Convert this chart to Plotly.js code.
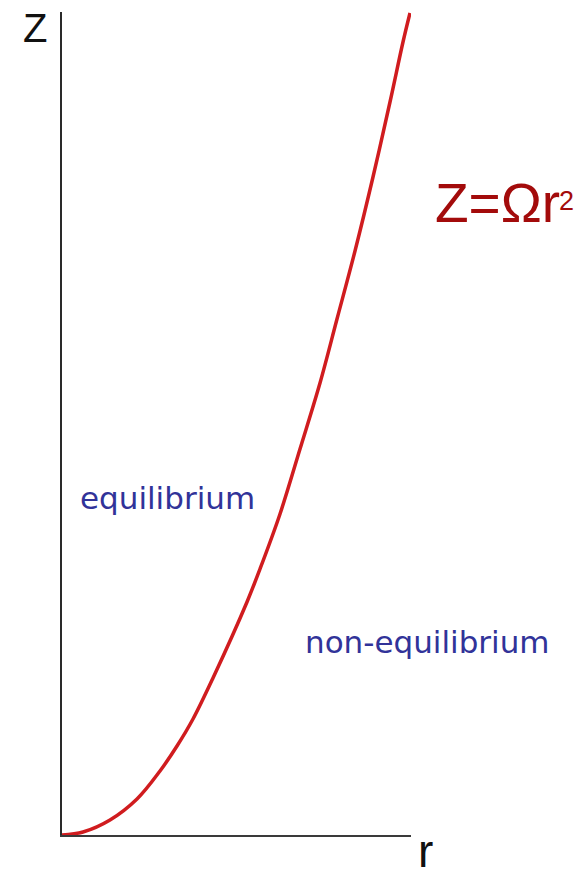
<!DOCTYPE html>
<html>
<head>
<meta charset="utf-8">
<script src="https://cdn.plot.ly/plotly-3.0.1.min.js"></script>
<style>
  html, body { margin: 0; padding: 0; background: #ffffff; }
  #chart { width: 587px; height: 879px; }
</style>
</head>
<body>
<div id="chart"></div>
<script>
// Free-surface profile of a rotating fluid: height z against radius r
const radius = [0, 0.21, 0.48, 0.75, 0.98, 1.15, 1.31, 1.51, 1.85, 1.98, 2.18, 2.38, 2.58, 2.75, 2.93, 3.11, 3.28, 3.41, 3.48];
const height = [0, 0.03, 0.15, 0.36, 0.64, 0.89, 1.16, 1.57, 2.33, 2.66, 3.21, 3.86, 4.52, 5.16, 5.84, 6.58, 7.33, 7.93, 8.22];

const axisLabelX = "r";
const axisLabelY = "Z";
const formulaMain = "Z=Ωr";
const formulaExp = "2";
const regionAbove = "equilibrium";
const regionBelow = "non-equilibrium";

// plot frame in pixels
const W = 587, H = 879;
const M = { l: 62, r: 176, t: 12, b: 44 };
const plotW = W - M.l - M.r, plotH = H - M.t - M.b;
const px = x => (x - M.l) / plotW;
const py = y => (H - M.b - y) / plotH;

const trace = {
  x: radius,
  y: height,
  type: "scatter",
  mode: "lines",
  line: { color: "#d01c1f", width: 3.5, shape: "spline", smoothing: 1 },
  cliponaxis: false,
  hoverinfo: "skip"
};

function note(text, x, y, size, color, family, xanchor, yanchor) {
  return {
    text: text, xref: "paper", yref: "paper",
    x: px(x), y: py(y), xanchor: xanchor || "center", yanchor: yanchor || "middle",
    showarrow: false,
    font: { size: size, color: color, family: family || "Liberation Sans, Arial, sans-serif" }
  };
}

const blue = "#313399";
const darkRed = "#a30b0b";

const layout = {
  width: W, height: H,
  margin: M,
  paper_bgcolor: "#ffffff",
  plot_bgcolor: "#ffffff",
  showlegend: false,
  xaxis: {
    range: [0, 3.49], showline: true, linecolor: "#3a3a3a", linewidth: 2,
    showgrid: false, zeroline: false, showticklabels: false, ticks: "", fixedrange: true
  },
  yaxis: {
    range: [0, 8.23], showline: true, linecolor: "#2a2a2a", linewidth: 2,
    showgrid: false, zeroline: false, showticklabels: false, ticks: "", fixedrange: true
  },
  annotations: [
    note(axisLabelY, 35, 28, 40, "#111111"),
    note(axisLabelX, 426, 851, 46, "#111111"),
    note(formulaMain, 433, 203, 55, darkRed, null, "left", "middle"),
    note(formulaExp, 566, 201, 27, darkRed),
    note(regionAbove, 167, 498, 31, blue, "DejaVu Sans, sans-serif"),
    note(regionBelow, 428, 642, 31, blue, "DejaVu Sans, sans-serif")
  ]
};

Plotly.newPlot("chart", [trace], layout, { staticPlot: true, displayModeBar: false });
</script>
</body>
</html>
